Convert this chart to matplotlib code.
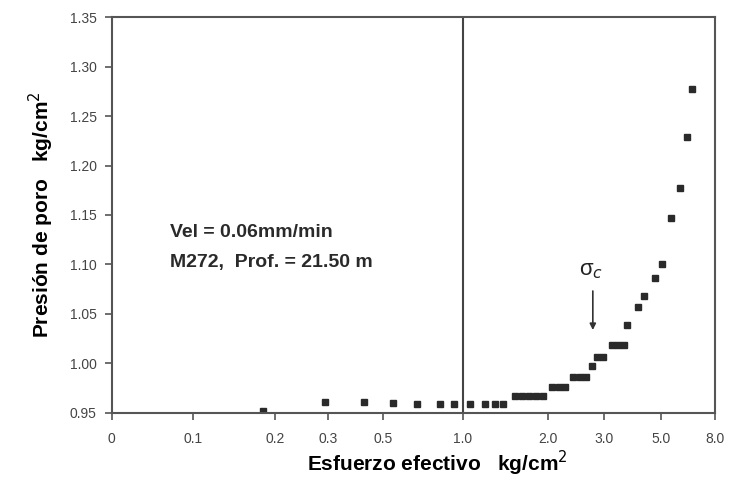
import numpy as np
import matplotlib
matplotlib.use("Agg")
import matplotlib.pyplot as plt

plt.rcParams['font.family'] = ['Liberation Sans', 'DejaVu Sans']

# x axis of the original is a non-uniform scale: tick values and where they sit (axes fraction)
tick_vals = [0, 0.1, 0.2, 0.3, 0.5, 1.0, 2.0, 3.0, 5.0, 8.0]
tick_labels = ['0', '0.1', '0.2', '0.3', '0.5', '1.0', '2.0', '3.0', '5.0', '8.0']
tick_frac = [0, 0.135, 0.270, 0.358, 0.449, 0.582, 0.723, 0.816, 0.910, 1.0]

y_ticks = [0.95, 1.00, 1.05, 1.10, 1.15, 1.20, 1.25, 1.30, 1.35]

# esfuerzo efectivo (kg/cm2)
esfuerzo = [0.185, 0.294, 0.432, 0.565, 0.714, 0.857, 0.944,
            1.08, 1.26, 1.38, 1.47,
            1.61, 1.69, 1.78, 1.86, 1.94,
            2.07, 2.20, 2.30,
            2.45, 2.57, 2.68,
            2.79,
            2.875, 2.98,
            3.28, 3.49, 3.70,
            3.81, 4.19, 4.40, 4.79, 5.06, 5.56, 6.06, 6.44, 6.72]
# presion de poro (kg/cm2)
presion = [0.952, 0.961, 0.961, 0.960, 0.959, 0.959, 0.959,
           0.959, 0.959, 0.959, 0.959,
           0.967, 0.967, 0.967, 0.967, 0.967,
           0.976, 0.976, 0.976,
           0.986, 0.986, 0.986,
           0.997,
           1.007, 1.007,
           1.019, 1.019, 1.019,
           1.039, 1.057, 1.068, 1.086, 1.100, 1.147, 1.177, 1.229, 1.277]

sigma_c = 2.80


def fwd(x):
    return np.interp(x, tick_vals, tick_frac)


def inv(f):
    return np.interp(f, tick_frac, tick_vals)


fig = plt.figure(figsize=(7.36, 4.82), dpi=100)
ax = fig.add_axes([0.152, 0.1432, 0.8195, 0.8215])
ax.set_xscale('function', functions=(fwd, inv))
ax.set_xlim(0, 8.0)
ax.set_ylim(0.95, 1.35)

ax.plot(esfuerzo, presion, 's', ms=4, color='#2a2a2a', mec='#2a2a2a')
ax.axvline(1.0, color='#444444', lw=1.5)

ax.annotate('', xy=(sigma_c, 1.031), xytext=(sigma_c, 1.076),
            arrowprops=dict(arrowstyle='-|>', color='#333333', lw=1.2,
                            mutation_scale=9))
ax.text(sigma_c - 0.03, 1.094, 'σ$_c$', fontsize=16, ha='center',
        va='center', color='#222222')

ax.text(0.096, 0.457, 'Vel = 0.06mm/min', transform=ax.transAxes,
        fontsize=14, fontweight='bold', va='center', color='#2a2a2a')
ax.text(0.096, 0.381, 'M272,  Prof. = 21.50 m', transform=ax.transAxes,
        fontsize=14, fontweight='bold', va='center', color='#2a2a2a')

ax.set_xticks(tick_vals)
ax.set_xticklabels(tick_labels)
ax.set_yticks(y_ticks)
ax.set_yticklabels(['%.2f' % v for v in y_ticks])
ax.tick_params(axis='both', direction='out', length=5, width=1.2,
               color='#555555', labelsize=10, labelcolor='#444444', pad=6)
ax.tick_params(axis='x', pad=9)

for sp in ax.spines.values():
    sp.set_color('#555555')
    sp.set_linewidth(1.5)

ax.set_xlabel('Esfuerzo efectivo   kg/cm$^{2}$', fontsize=15,
              fontweight='bold', labelpad=2, x=0.54)
ax.set_ylabel('Presión de poro   kg/cm$^{2}$', fontsize=15,
              fontweight='bold', labelpad=10)

fig.savefig('out.png', dpi=100)
